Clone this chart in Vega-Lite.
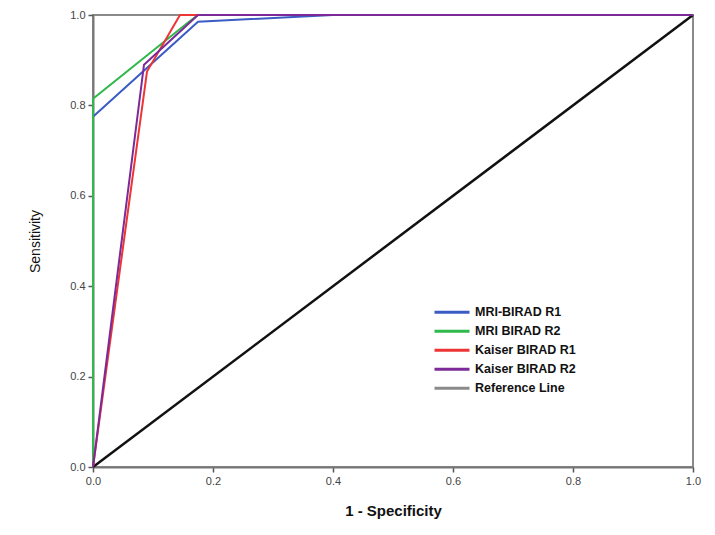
{
  "$schema": "https://vega.github.io/schema/vega-lite/v6.json",
  "width": 600,
  "height": 452,
  "autosize": {"type": "none"},
  "padding": {"left": 93, "top": 15, "right": 22, "bottom": 68},
  "background": "white",
  "config": {
    "font": "Liberation Sans",
    "view": {"stroke": "#8a8a8a", "strokeWidth": 2},
    "axis": {
      "grid": false,
      "domainColor": "#777777",
      "domainWidth": 2,
      "tickColor": "#555555",
      "tickSize": 5,
      "tickWidth": 1.5,
      "labelFlush": false,
      "labelFont": "Liberation Sans",
      "labelFontSize": 11,
      "labelColor": "#444444",
      "titleFont": "Liberation Sans",
      "titleColor": "#111111"
    }
  },
  "data": {
    "values": [
      {"series": "MRI-BIRAD R1", "o": 0, "fpr": 0, "tpr": 0},
      {"series": "MRI-BIRAD R1", "o": 1, "fpr": 0, "tpr": 0.775},
      {"series": "MRI-BIRAD R1", "o": 2, "fpr": 0.175, "tpr": 0.985},
      {"series": "MRI-BIRAD R1", "o": 3, "fpr": 0.4, "tpr": 1},
      {"series": "MRI-BIRAD R1", "o": 4, "fpr": 1, "tpr": 1},
      {"series": "MRI BIRAD R2", "o": 0, "fpr": 0, "tpr": 0},
      {"series": "MRI BIRAD R2", "o": 1, "fpr": 0, "tpr": 0.815},
      {"series": "MRI BIRAD R2", "o": 2, "fpr": 0.16, "tpr": 0.985},
      {"series": "MRI BIRAD R2", "o": 3, "fpr": 0.175, "tpr": 1},
      {"series": "MRI BIRAD R2", "o": 4, "fpr": 1, "tpr": 1},
      {"series": "Kaiser BIRAD R1", "o": 0, "fpr": 0, "tpr": 0},
      {"series": "Kaiser BIRAD R1", "o": 1, "fpr": 0.09, "tpr": 0.875},
      {"series": "Kaiser BIRAD R1", "o": 2, "fpr": 0.145, "tpr": 1},
      {"series": "Kaiser BIRAD R1", "o": 3, "fpr": 1, "tpr": 1},
      {"series": "Kaiser BIRAD R2", "o": 0, "fpr": 0, "tpr": 0},
      {"series": "Kaiser BIRAD R2", "o": 1, "fpr": 0.085, "tpr": 0.89},
      {"series": "Kaiser BIRAD R2", "o": 2, "fpr": 0.175, "tpr": 1},
      {"series": "Kaiser BIRAD R2", "o": 3, "fpr": 1, "tpr": 1},
      {"series": "Reference Line", "o": 0, "fpr": 0, "tpr": 0},
      {"series": "Reference Line", "o": 1, "fpr": 1, "tpr": 1}
    ]
  },
  "layer": [
    {
      "transform": [{"filter": "datum.series === 'Reference Line'"}],
      "mark": {"type": "line", "strokeWidth": 2.5, "color": "#111111"},
      "encoding": {
        "x": {"field": "fpr", "type": "quantitative"},
        "y": {"field": "tpr", "type": "quantitative"},
        "order": {"field": "o"}
      }
    },
    {
      "transform": [{"filter": "datum.series !== 'Reference Line'"}],
      "mark": {"type": "line", "strokeWidth": 2},
      "encoding": {
        "x": {
          "field": "fpr", "type": "quantitative",
          "scale": {"domain": [0, 1], "nice": false},
          "axis": {"values": [0, 0.2, 0.4, 0.6, 0.8, 1], "format": ".1f", "title": "1 - Specificity", "titleFontSize": 15, "titleFontWeight": "bold", "titlePadding": 17, "labelPadding": 3}
        },
        "y": {
          "field": "tpr", "type": "quantitative",
          "scale": {"domain": [0, 1], "nice": false},
          "axis": {"values": [0, 0.2, 0.4, 0.6, 0.8, 1], "format": ".1f", "title": "Sensitivity", "titleFontSize": 14, "titleFontWeight": "normal", "titlePadding": 27, "labelPadding": 3}
        },
        "order": {"field": "o"},
        "color": {
          "field": "series", "type": "nominal",
          "scale": {
            "domain": ["MRI-BIRAD R1", "MRI BIRAD R2", "Kaiser BIRAD R1", "Kaiser BIRAD R2", "Reference Line"],
            "range": ["#3b5cc4", "#2fb84b", "#ee3535", "#7b2a98", "#8a8a8a"]
          },
          "legend": {
            "title": null,
            "orient": "none",
            "legendX": 340,
            "legendY": 288,
            "symbolType": "stroke",
            "symbolSize": 1225,
            "clipHeight": 18.5,
            "symbolStrokeWidth": 3,
            "labelFontSize": 12.5,
            "labelFontWeight": "bold",
            "labelColor": "#111111",
            "rowPadding": 0,
            "labelOffset": 4
          }
        }
      }
    }
  ]
}
